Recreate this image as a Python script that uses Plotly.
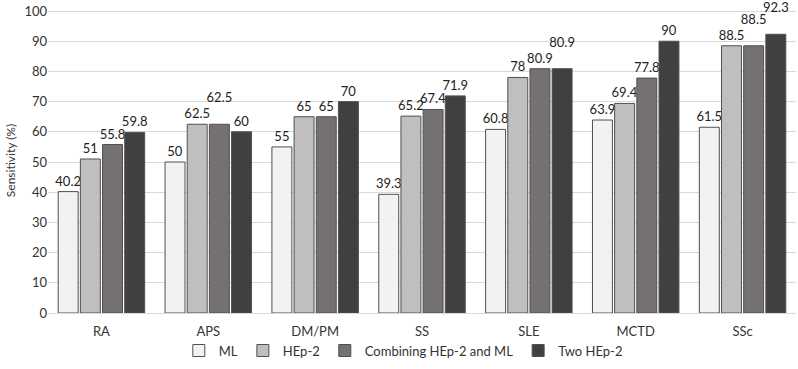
import plotly.graph_objects as go

categories = ["RA", "APS", "DM/PM", "SS", "SLE", "MCTD", "SSc"]
ml = [40.2, 50, 55, 39.3, 60.8, 63.9, 61.5]
hep2 = [51, 62.5, 65, 65.2, 78, 69.4, 88.5]
combining = [55.8, 62.5, 65, 67.4, 80.9, 77.8, 88.5]
two_hep2 = [59.8, 60, 70, 71.9, 80.9, 90, 92.3]
y_ticks = [0, 10, 20, 30, 40, 50, 60, 70, 80, 90, 100]

# labels lifted to avoid collisions (as in the reference)
lifted = {
    "Combining HEp-2 and ML": {"APS", "SSc"},
    "Two HEp-2": {"SLE", "SSc"},
}
LIFT = "<br><span style='font-size:8px'> </span>"

series = [
    ("ML", ml, "#f2f2f2"),
    ("HEp-2", hep2, "#bfbfbf"),
    ("Combining HEp-2 and ML", combining, "#767171"),
    ("Two HEp-2", two_hep2, "#404040"),
]

fig = go.Figure()
for name, vals, color in series:
    lift = lifted.get(name, set())
    texts = [f"{v}{LIFT}" if c in lift else f"{v}" for c, v in zip(categories, vals)]
    fig.add_trace(go.Bar(
        x=categories, y=vals, name=name,
        marker=dict(color=color, line=dict(color="#505050", width=1)),
        text=texts, textposition="outside",
        textfont=dict(size=13, color="#222222"),
        cliponaxis=False,
    ))

font = "Lato, Open Sans, Liberation Sans, sans-serif"
fig.update_layout(
    barmode="group", bargap=0.17, bargroupgap=0.1,
    width=798, height=369,
    margin=dict(l=48, r=2, t=8, b=56, autoexpand=False),
    paper_bgcolor="white", plot_bgcolor="white",
    font=dict(family=font, size=13, color="#333333"),
    uniformtext=dict(minsize=13, mode="show"),
    showlegend=True,
    legend=dict(orientation="h", x=0.475, xanchor="center",
                y=0.05, yanchor="middle", yref="container", bgcolor="rgba(0,0,0,0)",
                font=dict(size=13, color="#333333"), itemwidth=30, traceorder="normal"),
    xaxis=dict(showline=True, linecolor="#d9d9d9", linewidth=1, automargin=False,
               tickfont=dict(size=13, color="#333333"), ticks="", ticklabelstandoff=6),
    yaxis=dict(range=[0, 101], tickvals=y_ticks, showgrid=True, gridcolor="#d9d9d9",
               zeroline=False, automargin=False, tickfont=dict(size=13, color="#333333"),
               title=dict(text="Sensitivity (%)", font=dict(size=12, color="#333333"), standoff=6)),
)

fig.write_html("out.html", config={"displayModeBar": False},
               post_script="document.body.style.margin='0';")
